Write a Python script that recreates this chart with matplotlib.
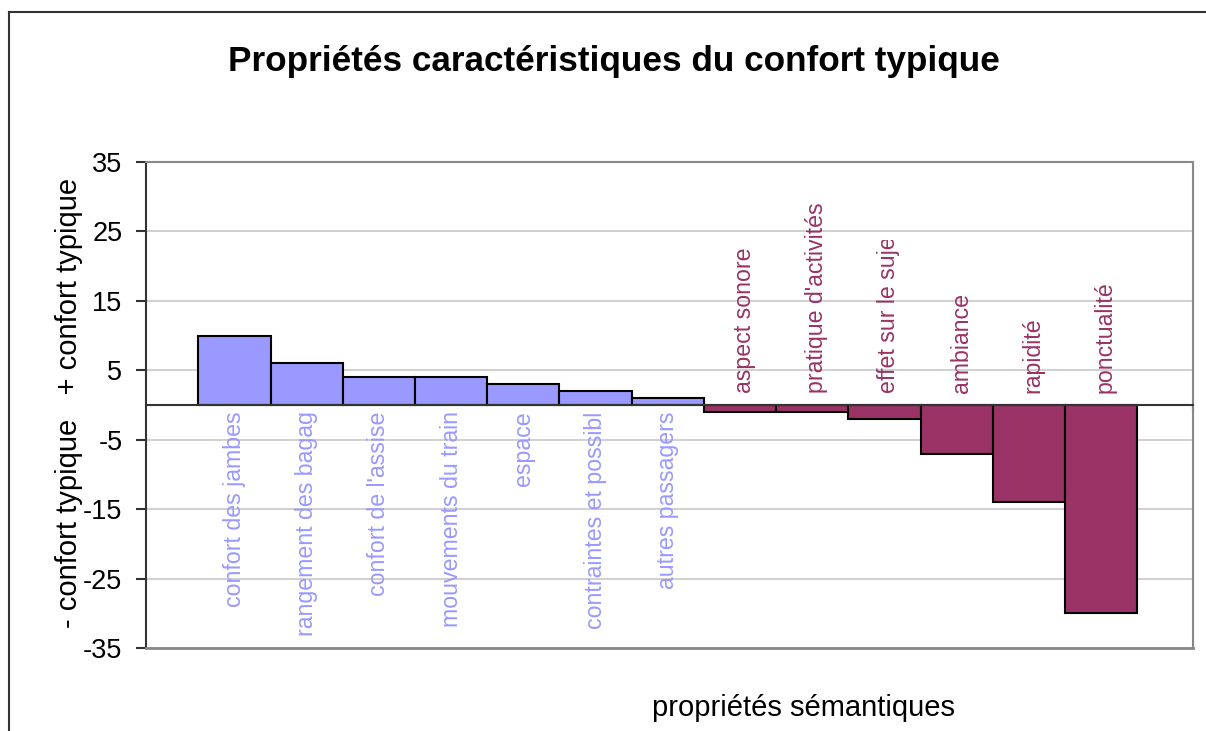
import matplotlib.pyplot as plt
from matplotlib.transforms import Bbox, TransformedBbox

plt.rcParams['font.family'] = ['Liberation Sans', 'DejaVu Sans']

categories = ["confort des jambes", "rangement des bagag", "confort de l'assise",
              "mouvements du train", "espace", "contraintes et possibl",
              "autres passagers", "aspect sonore", "pratique d'activités",
              "effet sur le sujet", "ambiance", "rapidité", "ponctualité"]
values = [10, 6, 4, 4, 3, 2, 1, -1, -1, -2, -7, -14, -30]
yticks = [-35, -25, -15, -5, 5, 15, 25, 35]
cut_labels = ["effet sur le sujet"]

blue = '#9999FF'
purple = '#993366'

fig = plt.figure(figsize=(12.06, 7.31), dpi=100)
ax = fig.add_axes([0.1211, 0.1135, 0.8679, 0.6649])

x = list(range(len(values)))
colors = [blue if v > 0 else purple for v in values]
ax.bar(x, values, width=1.0, color=colors, edgecolor='black', linewidth=1.5, zorder=2)

x_left, x_right = -1.224, len(values) - 0.5 + 0.767
ax.set_xlim(x_left, x_right)
ax.set_ylim(-35, 35)
ax.set_yticks(yticks)
ax.set_yticklabels([str(t) for t in yticks], fontsize=19.5)
ax.yaxis.grid(True, color='#c8c8c8', linewidth=1.2, zorder=0)
ax.set_axisbelow(True)

# category axis sits on the zero line
ax.spines['bottom'].set_position(('data', 0))
ax.spines['bottom'].set_color('#333333')
ax.spines['bottom'].set_linewidth(1.5)
ax.spines['bottom'].set_zorder(3)
ax.set_xticks([x_right])
ax.set_xticklabels([''])
ax.tick_params(axis='x', direction='out', length=6, width=1.5, color='#333333')
ax.tick_params(axis='y', direction='out', length=7, width=1.5, color='#333333', pad=10)
ax.spines['left'].set_color('#333333')
ax.spines['left'].set_linewidth(1.5)
for side in ('top', 'right'):
    ax.spines[side].set_color('#888888')
    ax.spines[side].set_linewidth(1.5)
ax.axhline(-35, color='#888888', linewidth=2, clip_on=False, zorder=3)

# category names written inside the plot, next to each bar
clip = TransformedBbox(Bbox([[x_left, -35], [x_right, 23.7]]), ax.transData)
for xi, name, v in zip(x, categories, values):
    if v > 0:
        ax.text(xi, -0.9, name, rotation=90, ha='center', va='top',
                color=blue, fontsize=16.7)
    else:
        t = ax.text(xi + 0.06, 1.7, name, rotation=90, ha='center', va='bottom',
                    color=purple, fontsize=16.7)
        if name in cut_labels:
            t.set_clip_on(True)
            t.set_clip_box(clip)

fig.text(0.509, 1 - 71 / 731, 'Propriétés caractéristiques du confort typique',
         ha='center', va='baseline', fontsize=25.3, fontweight='bold')
fig.text(69 / 1206, 1 - 403 / 731, '- confort typique   + confort typique',
         rotation=90, ha='center', va='center', fontsize=21)
fig.text(803 / 1206, 1 - 716 / 731, 'propriétés sémantiques',
         ha='center', va='baseline', fontsize=21)

# outer chart border
fx, fy = 9 / 1206, 1 - 12 / 731
fig.add_artist(plt.Line2D([fx, fx], [0, fy], color='#333333', linewidth=1.5))
fig.add_artist(plt.Line2D([fx, 1], [fy, fy], color='#333333', linewidth=1.5))

fig.savefig('out.png', dpi=100)
